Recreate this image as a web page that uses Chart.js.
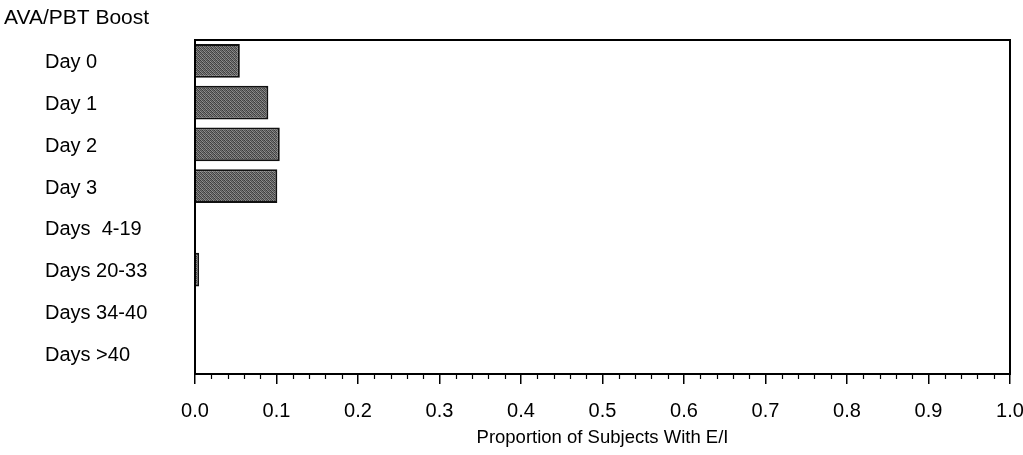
<!DOCTYPE html>
<html>
<head>
<meta charset="utf-8">
<script src="https://cdn.jsdelivr.net/npm/chart.js@4.4.1/dist/chart.umd.min.js"></script>
<style>
  html, body { margin: 0; padding: 0; background: #ffffff; }
  #wrap { width: 1023px; height: 455px; position: relative; }
</style>
</head>
<body>
<div id="wrap"><canvas id="c" width="1023" height="455"></canvas></div>
<script>
const chartTitle = 'AVA/PBT Boost';
const categories = ['Day 0', 'Day 1', 'Day 2', 'Day 3', 'Days  4-19', 'Days 20-33', 'Days 34-40', 'Days >40'];
const proportions = [0.055, 0.090, 0.104, 0.101, 0, 0.005, 0, 0];
const xTickValues = [0.0, 0.1, 0.2, 0.3, 0.4, 0.5, 0.6, 0.7, 0.8, 0.9, 1.0];
const xAxisTitle = 'Proportion of Subjects With E/I';

const FONT = "'Liberation Sans', Arial, sans-serif";

function makeTexture() {
  const c = document.createElement('canvas');
  c.width = 4; c.height = 4;
  const g = c.getContext('2d');
  const shades = [
    '#3c3c3c', '#8a8a8a', '#4a4a4a', '#6e6e6e',
    '#7a7a7a', '#444444', '#959595', '#505050',
    '#4e4e4e', '#707070', '#3a3a3a', '#888888',
    '#909090', '#555555', '#7c7c7c', '#424242'
  ];
  shades.forEach((s, i) => { g.fillStyle = s; g.fillRect(i % 4, Math.floor(i / 4), 1, 1); });
  return g.createPattern(c, 'repeat');
}

const framePlugin = {
  id: 'frame',
  afterDatasetsDraw(chart) {
    const { ctx, chartArea: a, scales } = chart;
    ctx.save();
    ctx.strokeStyle = '#000';
    ctx.lineWidth = 2;
    ctx.strokeRect(a.left, a.top, a.right - a.left, a.bottom - a.top);
    const xs = scales.x;
    ctx.lineWidth = 1.2;
    for (let i = 0; i <= 50; i++) {
      if (i % 5 === 0) continue;
      const px = Math.round(xs.getPixelForValue(i / 50)) + 0.5;
      ctx.beginPath();
      ctx.moveTo(px, a.bottom);
      ctx.lineTo(px, a.bottom + 5);
      ctx.stroke();
    }
    ctx.fillStyle = '#000';
    ctx.font = "21px " + FONT;
    ctx.textBaseline = 'middle';
    ctx.textAlign = 'left';
    ctx.fillText(chartTitle, 4, 18);
    ctx.restore();
  }
};

const texture = makeTexture();

new Chart(document.getElementById('c'), {
  type: 'bar',
  data: {
    labels: categories,
    datasets: [{
      data: proportions,
      backgroundColor: texture,
      borderColor: '#111',
      borderWidth: 2,
      borderSkipped: 'start',
      barPercentage: 0.9,
      categoryPercentage: 0.9
    }]
  },
  options: {
    indexAxis: 'y',
    responsive: false,
    animation: false,
    devicePixelRatio: 1,
    layout: { padding: { left: 45, top: 40, right: 0, bottom: 6 } },
    plugins: { legend: { display: false }, title: { display: false }, tooltip: { enabled: false } },
    scales: {
      x: {
        type: 'linear',
        min: 0, max: 1,
        afterBuildTicks(scale) { scale.ticks = xTickValues.map(v => ({ value: v })); },
        afterFit(scale) {
          scale.height = 75;
          scale.paddingRight = 13;
          scale.paddingLeft = 0;
        },
        ticks: {
          color: '#000',
          font: { family: FONT, size: 20 },
          padding: 15,
          callback: v => Number(v).toFixed(1),
          maxRotation: 0
        },
        grid: { display: true, drawOnChartArea: false, tickLength: 10, color: '#000', lineWidth: 1.5 },
        border: { display: true, color: '#000', width: 2 },
        title: {
          display: true,
          text: xAxisTitle,
          color: '#000',
          font: { family: FONT, size: 18.5 },
          padding: { top: 4, bottom: 0 }
        }
      },
      y: {
        afterFit(scale) { scale.width = 150; },
        ticks: {
          color: '#000',
          font: { family: FONT, size: 20 },
          crossAlign: 'far',
          labelOffset: 2
        },
        grid: { display: false },
        border: { display: true, color: '#000', width: 2 }
      }
    }
  },
  plugins: [framePlugin]
});
</script>
</body>
</html>
